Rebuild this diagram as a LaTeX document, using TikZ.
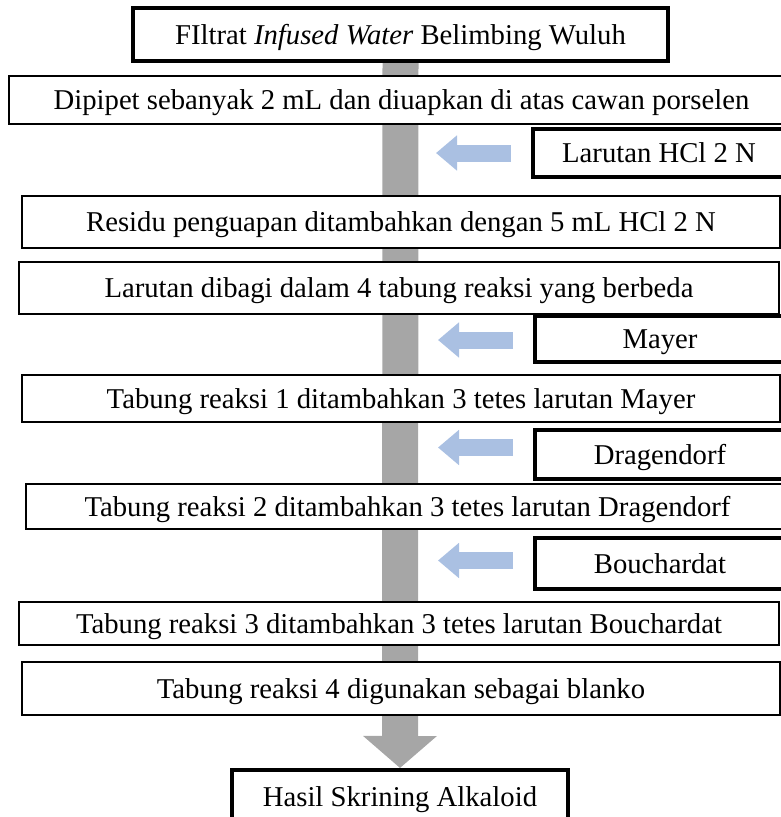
\documentclass[tikz,border=0pt]{standalone}
\usepackage{fontspec}
\setmainfont{Liberation Serif}
\usetikzlibrary{arrows.meta,backgrounds}
\definecolor{barGray}{RGB}{166,166,166}
\definecolor{addBlue}{RGB}{170,192,226}

\begin{document}
\begin{tikzpicture}[x=1pt,y=-1pt,
		box/.style={draw,line width=1.6pt,fill=white,inner sep=0pt,text height=19pt,text depth=0pt,font=\fontsize{28.7}{34}\selectfont},
		thickbox/.style={box,line width=4pt},
		addarrow/.style={addBlue,line width=17pt,-{Triangle[width=34pt,length=21pt]}},
		flowbar/.style={barGray,line width=36pt,-{Triangle[width=72pt,length=32pt]}}]
		\useasboundingbox (0,0) rectangle (781,817);
		\clip (0,0) rectangle (781,817);
		\node[thickbox,minimum width=535pt,minimum height=53pt] (filtrat) at (400.5,34.5) {FIltrat \textit{Infused Water} Belimbing Wuluh};
		\node[box,minimum width=785pt,minimum height=48pt] (pipet) at (401.5,100) {Dipipet sebanyak 2 mL dan diuapkan di atas cawan porselen};
		\node[thickbox,minimum width=252pt,minimum height=48pt] (hcl) at (659,153) {Larutan HCl 2 N};
		\node[box,minimum width=758pt,minimum height=52pt] (residu) at (401,222) {Residu penguapan ditambahkan dengan 5 mL HCl 2 N};
		\node[box,minimum width=760pt,minimum height=52pt] (bagi) at (399,288) {Larutan dibagi dalam 4 tabung reaksi yang berbeda};
		\node[thickbox,minimum width=250pt,minimum height=46pt] (mayer) at (660,339) {Mayer};
		\node[box,minimum width=758pt,minimum height=47pt] (tabungA) at (401,398.5) {Tabung reaksi 1 ditambahkan 3 tetes larutan Mayer};
		\node[thickbox,minimum width=250pt,minimum height=49pt] (drag) at (660,454.5) {Dragendorf};
		\node[box,minimum width=763pt,minimum height=45pt] (tabungB) at (407.5,506.5) {Tabung reaksi 2 ditambahkan 3 tetes larutan Dragendorf};
		\node[thickbox,minimum width=250pt,minimum height=51pt] (bouch) at (660,563.5) {Bouchardat};
		\node[box,minimum width=760pt,minimum height=43pt] (tabungC) at (399,623.5) {Tabung reaksi 3 ditambahkan 3 tetes larutan Bouchardat};
		\node[box,minimum width=758pt,minimum height=53pt] (tabungD) at (401,688.5) {Tabung reaksi 4 digunakan sebagai blanko};
		\node[thickbox,minimum width=336pt,minimum height=54pt] (hasil) at (400,797) {Hasil Skrining Alkaloid};
		\foreach \s/\dy in {hcl/0,mayer/-1,drag/7,bouch/3}
			\draw[addarrow] ([xshift=-20pt,yshift=\dy pt]\s.west) -- ([xshift=-95pt,yshift=\dy pt]\s.west);
		\begin{scope}[on background layer]
			\draw[flowbar] (filtrat.south) -- (hasil.north);
		\end{scope}
	\end{tikzpicture}
\end{document}
